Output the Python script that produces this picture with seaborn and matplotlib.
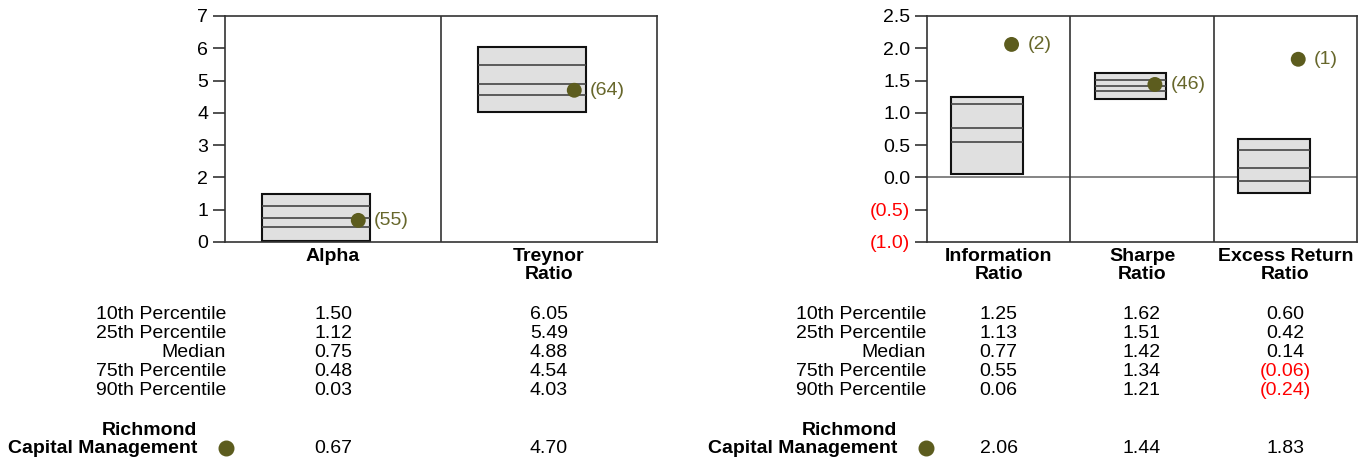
import numpy as np
import pandas as pd
import matplotlib
matplotlib.use("Agg")
import matplotlib.pyplot as plt
import matplotlib.transforms as mtransforms
import seaborn as sns

# ---------------- data ----------------
left_categories = ["Alpha", "Treynor\nRatio"]
left_p10 = [1.50, 6.05]
left_p25 = [1.12, 5.49]
left_median = [0.75, 4.88]
left_p75 = [0.48, 4.54]
left_p90 = [0.03, 4.03]
left_manager = [0.67, 4.70]
left_rank = [55, 64]
left_yticks = [0, 1, 2, 3, 4, 5, 6, 7]

right_categories = ["Information\nRatio", "Sharpe\nRatio", "Excess Return\nRatio"]
right_p10 = [1.25, 1.62, 0.60]
right_p25 = [1.13, 1.51, 0.42]
right_median = [0.77, 1.42, 0.14]
right_p75 = [0.55, 1.34, -0.06]
right_p90 = [0.06, 1.21, -0.24]
right_manager = [2.06, 1.44, 1.83]
right_rank = [2, 46, 1]
right_yticks = [-1.0, -0.5, 0.0, 0.5, 1.0, 1.5, 2.0, 2.5]

row_labels = ["10th Percentile", "25th Percentile", "Median", "75th Percentile", "90th Percentile"]
manager_name = ["Richmond", "Capital Management"]

# ---------------- style ----------------
sns.set_theme(style="white")
plt.rcParams["font.family"] = ["Liberation Sans", "DejaVu Sans"]
plt.rcParams["text.color"] = "black"
plt.rcParams["xtick.color"] = "black"
plt.rcParams["ytick.color"] = "black"
plt.rcParams["axes.labelcolor"] = "black"
FS = 14
DOT = "#5C5C1E"
DOT_TXT = "#67672B"
RED = "#FF0000"
LINE = "#333333"

W, H = 1365, 457
fig = plt.figure(figsize=(W / 100, H / 100), dpi=100)


def fx(px):
    return px / W


def fy(py):
    return 1 - py / H


ax_l = fig.add_axes([fx(225), fy(242), fx(657) - fx(225), fy(16) - fy(242)])
ax_r = fig.add_axes([fx(927), fy(242), fx(1357) - fx(927), fy(16) - fy(242)])


def fmt_tick(v, decimals):
    s = f"{abs(v):.{decimals}f}"
    return f"({s})" if v < 0 else s


def draw_panel(ax, cats, p10, p25, med, p75, p90, mgr, rank, yticks, decimals,
               dot_dx, label_x_px, name_x_px):
    n = len(cats)
    x = np.arange(n)
    box_dx = -0.08
    p10a, p25a, meda, p75a, p90a = map(np.asarray, (p10, p25, med, p75, p90))
    # zero line
    if min(yticks) < 0:
        ax.axhline(0, color="#707070", lw=1.2, zorder=1)
    # boxes
    ax.bar(x + box_dx, p10a - p90a, width=0.5, bottom=p90a, color="#E0E0E0",
           edgecolor="#111111", linewidth=1.5, zorder=2)
    for vals in (p25a, meda, p75a):
        ax.hlines(vals, x + box_dx - 0.25, x + box_dx + 0.25, color="#444444",
                  lw=1.2, zorder=3)
    # manager dots
    df = pd.DataFrame({"x": x + dot_dx, "y": mgr})
    sns.scatterplot(data=df, x="x", y="y", ax=ax, s=115, color=DOT,
                    edgecolor="none", zorder=4, legend=False)
    for xi, yi, r in zip(x, mgr, rank):
        ax.annotate(f"({r})", (xi + dot_dx, yi), xytext=(11.5, 0),
                    textcoords="offset points", ha="left", va="center",
                    color=DOT_TXT, fontsize=FS, zorder=5)
    # dividers
    for b in np.arange(n - 1) + 0.5:
        ax.axvline(b, color=LINE, lw=1.2, zorder=1)
    ax.set_xlim(-0.5, n - 0.5)
    ax.set_ylim(min(yticks), max(yticks))
    ax.set_yticks(yticks)
    ax.set_yticklabels([fmt_tick(v, decimals) for v in yticks], fontsize=FS)
    for t, v in zip(ax.get_yticklabels(), yticks):
        t.set_color(RED if v < 0 else "black")
    ax.set_xticks(x)
    ax.set_xticklabels([""] * n)
    ax.tick_params(axis="x", length=0)
    ax.tick_params(axis="y", length=9, width=1.2, color=LINE, pad=3, left=True)
    ax.set_xlabel("")
    ax.set_ylabel("")
    for sp in ax.spines.values():
        sp.set_color(LINE)
        sp.set_linewidth(1.2)
        sp.set_visible(True)

    trans = mtransforms.blended_transform_factory(ax.transData, fig.transFigure)
    # category labels (bold, two lines)
    for i, c in enumerate(cats):
        for j, line in enumerate(c.split("\n")):
            ax.text(i, fy(261 + 18 * j), line, transform=trans, ha="center",
                    va="baseline", fontsize=FS, fontweight="bold")

    # table below
    row_y = [319, 338, 357, 376, 395]
    for lab, yy in zip(row_labels, row_y):
        fig.text(fx(label_x_px), fy(yy), lab, ha="right", va="baseline", fontsize=FS)
    for i in range(n):
        col = [p10[i], p25[i], med[i], p75[i], p90[i]]
        for v, yy in zip(col, row_y):
            ax.text(i, fy(yy), fmt_tick(v, 2), transform=trans, ha="center",
                    va="baseline", fontsize=FS, color=RED if v < 0 else "black")
        ax.text(i, fy(453), fmt_tick(mgr[i], 2), transform=trans, ha="center",
                va="baseline", fontsize=FS, color=RED if mgr[i] < 0 else "black")
    for line, yy in zip(manager_name, [435, 453]):
        fig.text(fx(name_x_px), fy(yy), line, ha="right", va="baseline",
                 fontsize=FS, fontweight="bold")
    fig.add_artist(plt.Line2D([fx(label_x_px)], [fy(447.5)], marker="o",
                              markersize=10.5, color=DOT, linestyle="none",
                              transform=fig.transFigure))


draw_panel(ax_l, left_categories, left_p10, left_p25, left_median, left_p75,
           left_p90, left_manager, left_rank, left_yticks, 0, 0.117, 226, 197)
draw_panel(ax_r, right_categories, right_p10, right_p25, right_median, right_p75,
           right_p90, right_manager, right_rank, right_yticks, 1, 0.09, 926, 897)

fig.savefig("out.png", dpi=100)
